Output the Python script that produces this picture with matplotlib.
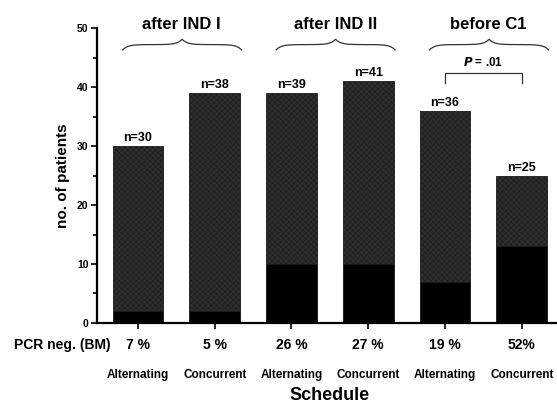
import matplotlib
matplotlib.use("Agg")
import matplotlib.pyplot as plt
import numpy as np
from matplotlib.ticker import MultipleLocator

schedules = ["Alternating", "Concurrent", "Alternating", "Concurrent", "Alternating", "Concurrent"]
totals = [30, 39, 39, 41, 36, 25]
pcr_neg_counts = [2, 2, 10, 10, 7, 13]
n_labels = ["n=30", "n=38", "n=39", "n=41", "n=36", "n=25"]
pcr_pct = ["7 %", "5 %", "26 %", "27 %", "19 %", "52%"]
groups = ["after IND I", "after IND II", "before C1"]

plt.rcParams['font.family'] = ['Liberation Sans', 'DejaVu Sans']
plt.rcParams['hatch.linewidth'] = 0.4
plt.rcParams['hatch.color'] = '#6a6a6a'

fig = plt.figure(figsize=(5.57, 4.13), dpi=100)
ax = fig.add_axes([0.174, 0.218, 0.826, 0.714])

x = np.arange(len(totals))
w = 0.66
rest = [t - p for t, p in zip(totals, pcr_neg_counts)]
ax.bar(x, pcr_neg_counts, width=w, color='black', edgecolor='black', linewidth=0.5)
ax.bar(x, rest, width=w, bottom=pcr_neg_counts, color='#2e2e2e', edgecolor='#1a1a1a',
       linewidth=0.6, hatch='xxxxxx')

for xi, t, lab in zip(x, totals, n_labels):
    ax.text(xi, t + 0.3, lab, ha='center', va='bottom', fontsize=9, fontweight='bold')

ax.set_xlim(-0.535, 5.46)
ax.set_ylim(0, 50)
ax.yaxis.set_major_locator(MultipleLocator(10))
ax.yaxis.set_minor_locator(MultipleLocator(5))
ax.tick_params(axis='y', which='major', length=4, width=1.2, labelsize=7.5, pad=2)
ax.tick_params(axis='y', which='minor', length=3, width=1.2)
for l in ax.get_yticklabels():
    l.set_fontweight('bold')
ax.set_xticks(x)
ax.set_xticklabels([])
ax.tick_params(axis='x', length=4, width=1.2)
for s in ['top', 'right']:
    ax.spines[s].set_visible(False)
ax.spines['left'].set_linewidth(1.6)
ax.spines['bottom'].set_linewidth(1.6)

ax.set_ylabel("no. of patients", fontsize=11, fontweight='bold', labelpad=5)

# PCR row and schedule labels
trans = ax.get_xaxis_transform()
ax.text(-0.36, -0.075, "PCR neg. (BM)", transform=trans, ha='right', va='center',
        fontsize=10, fontweight='bold')
for xi, p, s in zip(x, pcr_pct, schedules):
    ax.text(xi, -0.075, p, transform=trans, ha='center', va='center', fontsize=10, fontweight='bold')
    ax.text(xi, -0.178, s, transform=trans, ha='center', va='center', fontsize=8.5,
            fontweight='bold', fontstretch='condensed',
            family=['DejaVu Sans Condensed', 'Liberation Sans Narrow', 'Liberation Sans'])
ax.text(2.5, -0.247, "Schedule", transform=trans, ha='center', va='center',
        fontsize=13, fontweight='bold')

# braces
def brace(x0, x1, y, h):
    xm = (x0 + x1) / 2
    t = np.linspace(0, 1, 40)
    xs1 = x0 + (xm - x0) * t
    ys1 = y + h * (0.5 * (1 - np.exp(-t * 12)) + 0.5 * np.exp(-(1 - t) * 12))
    xs2 = xm + (x1 - xm) * t
    ys2 = ys1[::-1]
    ax.plot(np.r_[xs1, xs2], np.r_[ys1, ys2], color='#333333', lw=0.9, clip_on=False)

for g, name in enumerate(groups):
    a, b = 2 * g, 2 * g + 1
    brace(a - 0.2, b + 0.35, 46.3, 1.8)
    ax.text((a + b) / 2 + 0.07, 49.3, name, ha='center', va='bottom', fontsize=12,
            fontweight='bold')

# P-value bracket
ax.plot([4, 4, 5, 5], [40.7, 42.3, 42.3, 40.7], color='#333333', lw=0.9)
ax.text(4.5, 43.0, r"$\bfit{P}$ = .01", ha='center', va='bottom', fontsize=8.5, fontweight='bold')

fig.savefig("out.png", dpi=100)
